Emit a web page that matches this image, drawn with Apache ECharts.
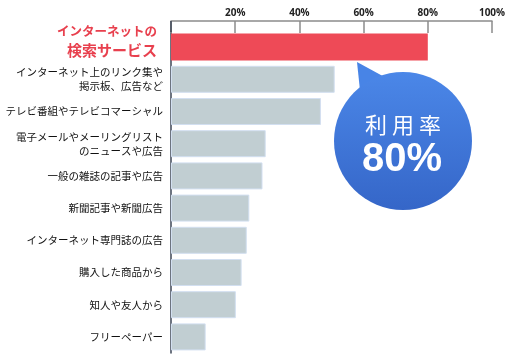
<!DOCTYPE html>
<html><head><meta charset="utf-8">
<script src="https://cdn.jsdelivr.net/npm/echarts@6/dist/echarts.min.js"></script>
<style>html,body{margin:0;padding:0;background:#fff}#c{width:511px;height:360px}</style>
</head><body><div id="c"></div>
<script>
const categories = [
  "インターネットの\n検索サービス",
  "インターネット上のリンク集や\n掲示板、広告など",
  "テレビ番組やテレビコマーシャル",
  "電子メールやメーリングリスト\nのニュースや広告",
  "一般の雑誌の記事や広告",
  "新聞記事や新聞広告",
  "インターネット専門誌の広告",
  "購入した商品から",
  "知人や友人から",
  "フリーペーパー"
];
const values = [80, 51, 46.7, 29.5, 28.5, 24.4, 23.6, 22, 20.2, 10.8];
const tickLabels = ["", "20%", "40%", "60%", "80%", "100%"];
const bubbleTitle = "利 用 率";
const bubbleValue = "80%";

const chart = echarts.init(document.getElementById('c'), null, {renderer: 'canvas'});
const jp = '"Noto Sans CJK JP", sans-serif';
chart.setOption({
  animation: false,
  grid: {left: 171, right: 19, top: 31, bottom: 7, containLabel: false},
  xAxis: {
    type: 'value', position: 'top', min: 0, max: 100, interval: 20, offset: 10,
    axisLine: {show: true, lineStyle: {color: '#8c8c8c', width: 1.5}},
    axisTick: {show: true, inside: true, length: 12, lineStyle: {color: '#8c8c8c', width: 1.5}},
    splitLine: {show: false},
    axisLabel: {
      margin: 3, fontSize: 10, fontWeight: 'bold', color: '#222', fontFamily: '"Open Sans", sans-serif',
      formatter: v => tickLabels[Math.round(v / 20)]
    }
  },
  yAxis: {
    type: 'category', inverse: true, data: categories,
    axisLine: {show: true, lineStyle: {color: '#3d4656', width: 1.5}},
    axisTick: {show: false},
    axisLabel: {
      margin: 8, fontSize: 10.5, color: '#111', fontFamily: jp, align: 'right',
      interval: 0, showMinLabel: true, showMaxLabel: true, hideOverlap: false,
      formatter: (v, i) => {
        const p = v.split('\n');
        if (i === 0) {
          return '{a|' + p[0] + '}\n{b|' + p[1] + '}\n{s| }';
        }
        return p.map(l => '{n|' + l + '}').join('\n');
      },
      rich: {
        n: {fontSize: 10.5, color: '#111', fontFamily: jp, lineHeight: 14, align: 'right'},
        a: {fontSize: 12.5, fontWeight: 'bold', color: '#e8404e', fontFamily: jp, lineHeight: 19, align: 'right', padding: [0, 6, 0, 0]},
        b: {fontSize: 15, fontWeight: 'bold', color: '#e8404e', fontFamily: jp, lineHeight: 19, align: 'right', padding: [0, 6, 0, 0]},
        s: {fontSize: 6, lineHeight: 12}
      }
    }
  },
  series: [{
    type: 'bar', barWidth: 27,
    data: values.map((v, i) => ({
      value: v,
      itemStyle: i === 0 ? {color: '#ee4a57'} : {color: '#c1ced2', borderColor: '#d2dff0', borderWidth: 1}
    }))
  }],
  graphic: [
    {type: 'line', shape: {x1: 171, y1: 21, x2: 171, y2: 32}, style: {stroke: '#3d4656', lineWidth: 1.5}, z: 10},
    {type: 'group', children: [
      {type: 'polygon', shape: {points: [[357, 62], [361, 100], [390, 80]]},
        style: {fill: '#4884e6'}},
      {type: 'circle', shape: {cx: 403, cy: 141, r: 69},
        style: {fill: new echarts.graphic.LinearGradient(0, 0, 0, 1, [
          {offset: 0, color: '#4b87e8'}, {offset: 1, color: '#3566c8'}])}},
      {type: 'text', style: {x: 403, y: 125, text: bubbleTitle, fill: '#fff',
        font: '22px "Noto Sans CJK JP", sans-serif', textAlign: 'center', textVerticalAlign: 'middle'}},
      {type: 'text', style: {x: 402, y: 160, text: bubbleValue, fill: '#fff',
        font: 'bold 40px "Liberation Sans", Arial, sans-serif', textAlign: 'center', textVerticalAlign: 'middle'}}
    ]}
  ]
});
</script></body></html>
